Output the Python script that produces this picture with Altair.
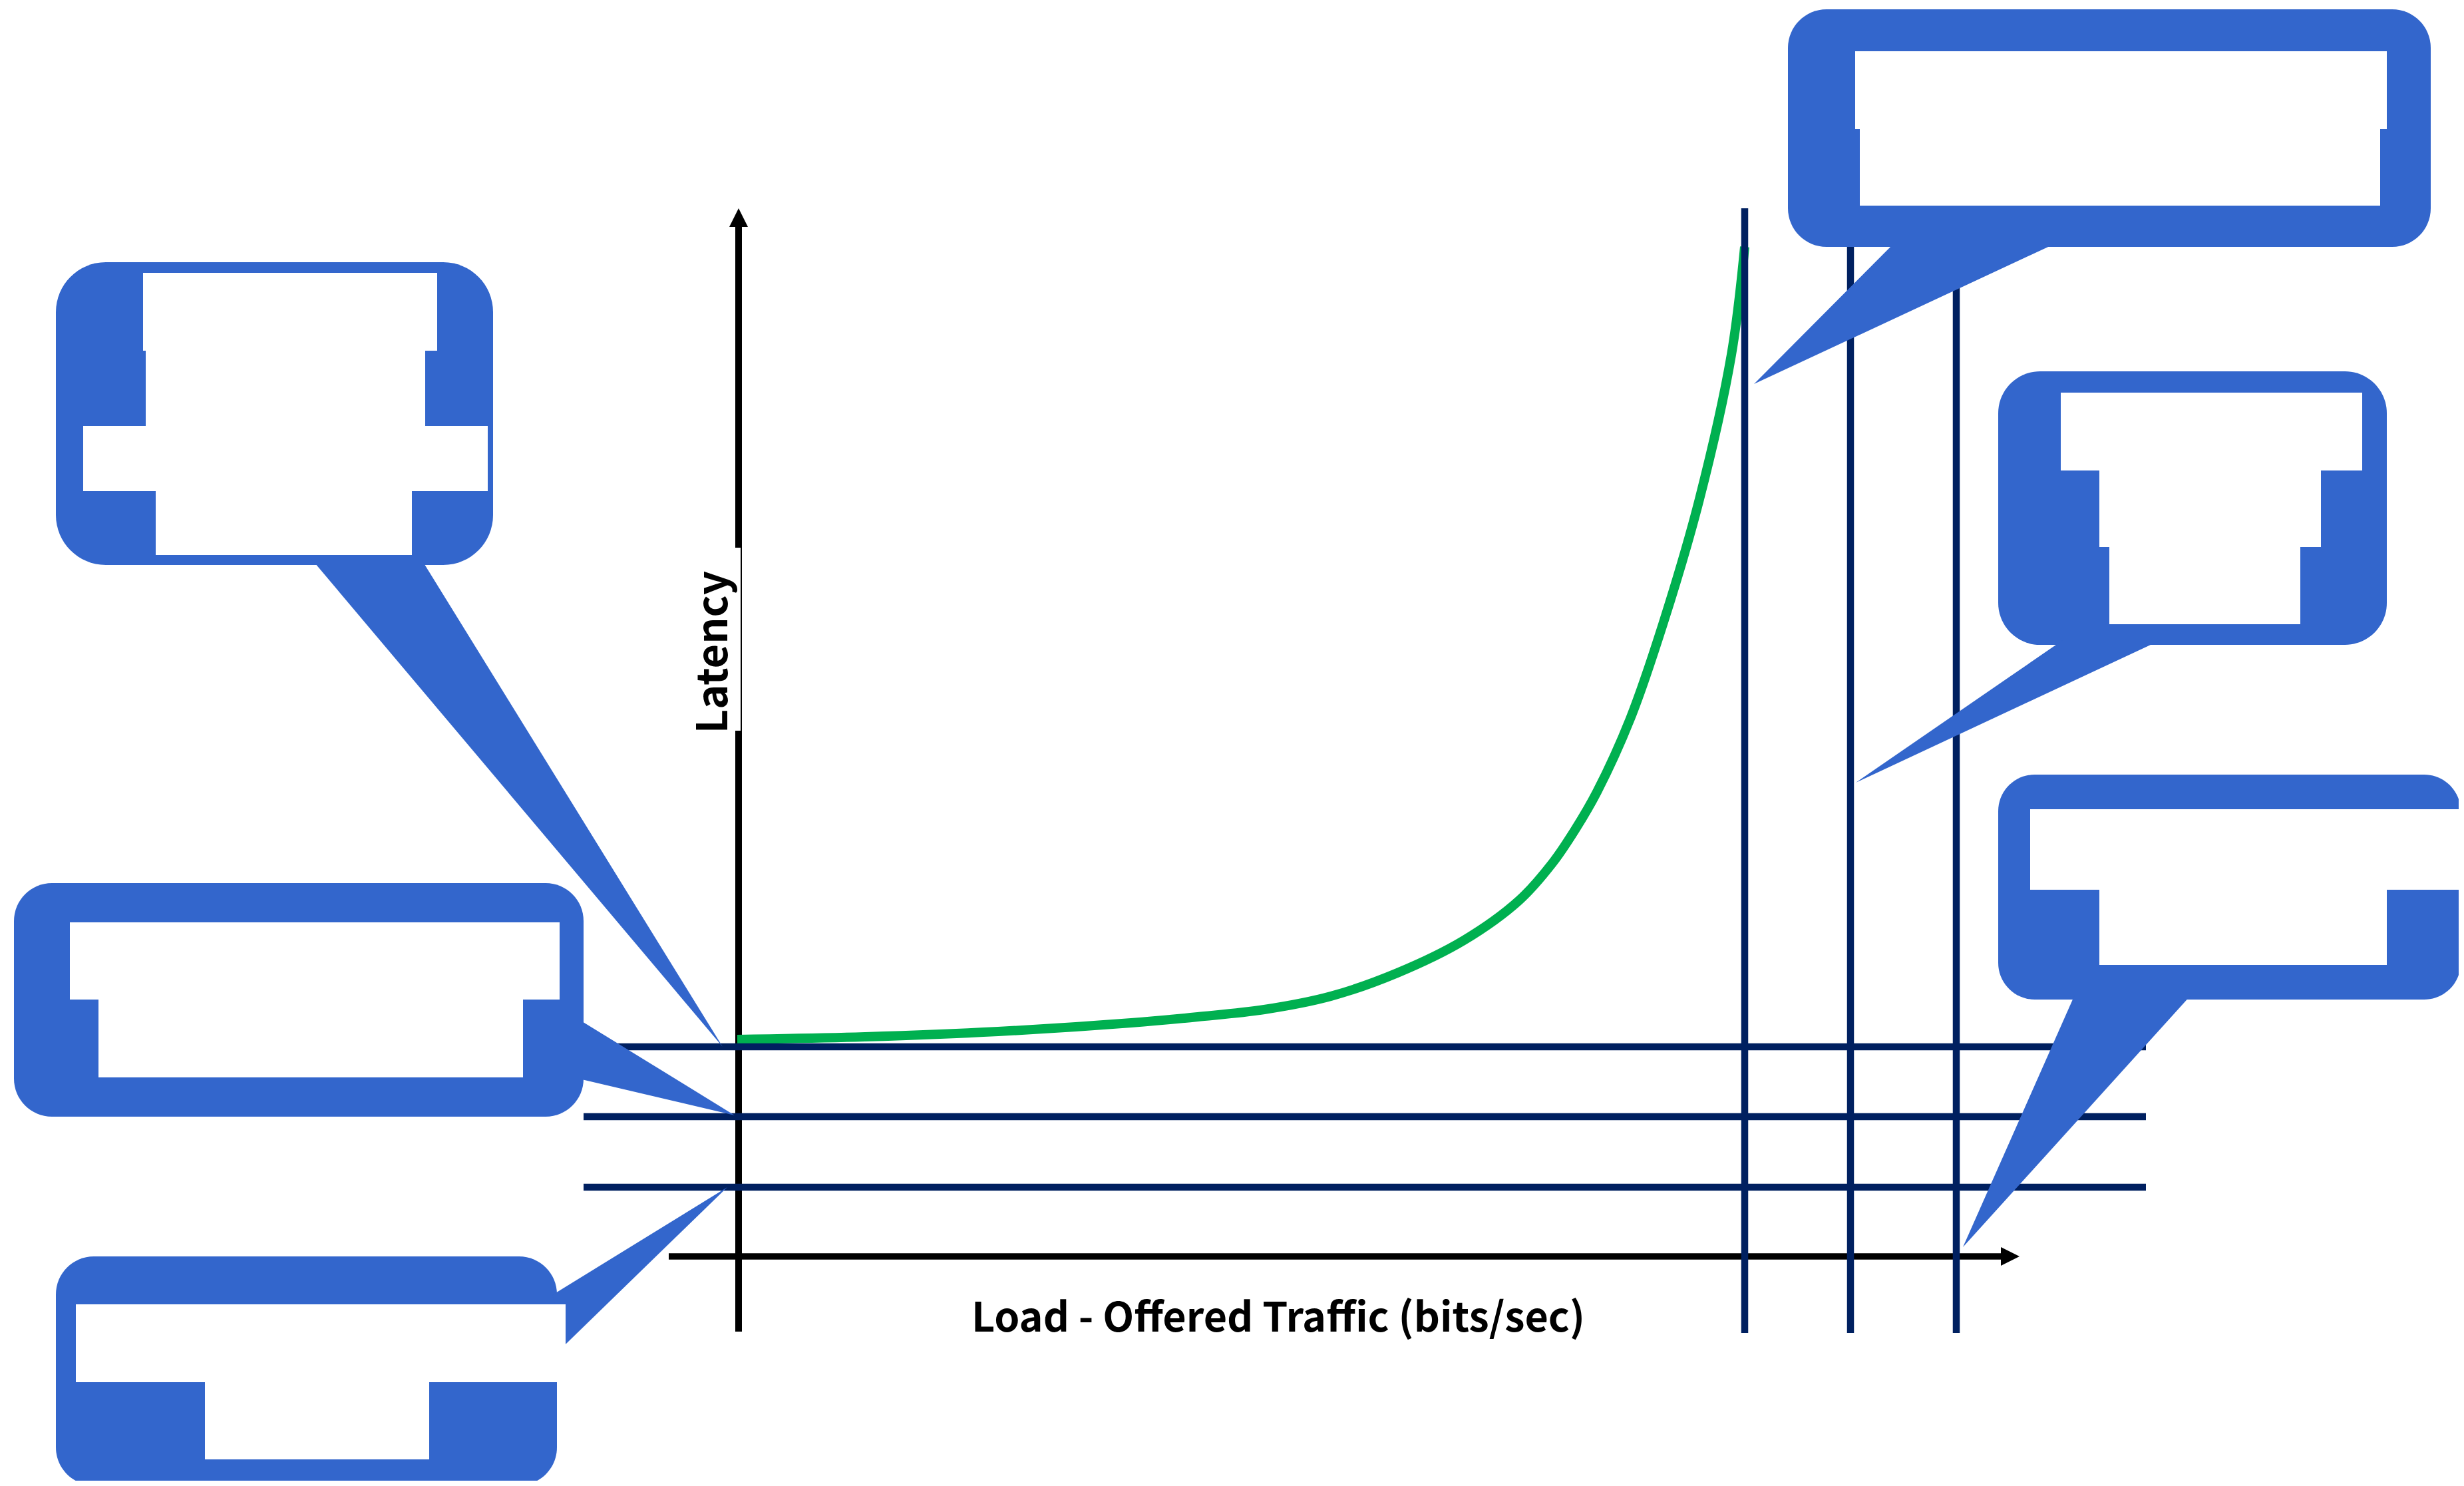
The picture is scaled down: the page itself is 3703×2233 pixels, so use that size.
import altair as alt
import pandas as pd

BLUE = "#3366CC"
NAVY = "#002060"
GREEN = "#00B050"
BLACK = "#000000"

# Latency curve (load -> latency)
CURVE_X = [1108, 1300, 1500, 1700, 1800, 1900, 2000, 2100, 2200, 2283, 2333, 2367, 2400, 2450, 2500, 2554, 2602, 2622]
CURVE_Y = [1562, 1558, 1550, 1537, 1528, 1517, 1497, 1462, 1413, 1353, 1297, 1247, 1190, 1080, 935, 750, 533, 371]

# Navy reference lines
VLINE_X = [2622, 2781, 2940]
VLINE_Y1 = [313, 371, 371]
VLINE_Y2 = [2003, 2003, 2003]
HLINE_Y = [1573, 1678, 1784]
HLINE_X1 = [877, 877, 877]
HLINE_X2 = [3225, 3225, 3225]

# Axes
YAXIS_X = [1110]
YAXIS_Y1 = [341]
YAXIS_Y2 = [2001]
XAXIS_Y = [1888]
XAXIS_X1 = [1005]
XAXIS_X2 = [3008]

# Callout bubbles
BUB_X1 = [84, 21, 84, 2687, 3003, 3003]
BUB_X2 = [741, 877, 837, 3653, 3587, 3698]
BUB_Y1 = [394, 1327, 1888, 14, 558, 1164]
BUB_Y2 = [849, 1678, 2232, 371, 969, 1502]
BUB_R = [75, 57, 57, 58, 63, 55]

# Callout pointers and axis arrowheads (polygons)
POLY_ID = [1, 1, 1, 2, 2, 2, 3, 3, 3, 4, 4, 4, 5, 5, 5, 6, 6, 6, 7, 7, 7, 8, 8, 8]
POLY_X = [468, 633, 1086, 870, 870, 1104, 830, 850, 1093, 2847, 3091, 2636,
          3100, 3247, 2789, 3118, 3293, 2950, 1110, 1124, 1096, 3035, 3007, 3007]
POLY_Y = [840, 840, 1573, 1532, 1621, 1676, 1946, 2020, 1784, 365, 365, 577,
          962, 962, 1176, 1495, 1495, 1874, 313, 341, 341, 1888, 1902, 1874]
POLY_C = [BLUE] * 18 + [BLACK] * 6

# Blanked-out callout text blocks
WB_X1 = [215, 219, 125, 234, 105, 148, 114, 308, 2788, 2795, 3097, 3155, 3170, 3051, 3155]
WB_X2 = [657, 639, 733, 619, 841, 786, 850, 645, 3587, 3577, 3550, 3488, 3457, 3703, 3587]
WB_Y1 = [410, 527, 640, 738, 1386, 1502, 1960, 2077, 77, 194, 590, 707, 822, 1216, 1337]
WB_Y2 = [527, 640, 738, 834, 1502, 1619, 2077, 2193, 194, 309, 707, 822, 938, 1337, 1450]

# Label box behind the y axis title
LBOX_X1, LBOX_X2, LBOX_Y1, LBOX_Y2 = [1099], [1113], [823], [1098]

LABELS = ["Load - Offered Traffic (bits/sec)", "Latency"]
LABEL_X = [1921, 1093]
LABEL_Y = [2001, 980]
LABEL_ANGLE = [0, 270]
LABEL_SIZE = [61, 63]

FONT = "Noto Sans CJK SC, Lato, sans-serif"

xs = alt.Scale(domain=[8, 3695], nice=False, zero=False)
ys = alt.Scale(domain=[8, 2225], nice=False, zero=False, reverse=True)


def X(f):
    return alt.X(f"{f}:Q", scale=xs, axis=None)


def Y(f):
    return alt.Y(f"{f}:Q", scale=ys, axis=None)


layers = []

# black axes
layers.append(alt.Chart(pd.DataFrame({"x": YAXIS_X, "y1": YAXIS_Y1, "y2": YAXIS_Y2}))
              .mark_rule(color=BLACK, strokeWidth=10)
              .encode(x=X("x"), y=Y("y1"), y2=alt.Y2("y2:Q")))
layers.append(alt.Chart(pd.DataFrame({"y": XAXIS_Y, "x1": XAXIS_X1, "x2": XAXIS_X2}))
              .mark_rule(color=BLACK, strokeWidth=9.5)
              .encode(y=Y("y"), x=X("x1"), x2=alt.X2("x2:Q")))
# white box behind "Latency"
layers.append(alt.Chart(pd.DataFrame({"x1": LBOX_X1, "x2": LBOX_X2, "y1": LBOX_Y1, "y2": LBOX_Y2}))
              .mark_rect(color="white")
              .encode(x=X("x1"), x2=alt.X2("x2:Q"), y=Y("y1"), y2=alt.Y2("y2:Q")))
# green latency curve
layers.append(alt.Chart(pd.DataFrame({"x": CURVE_X, "y": CURVE_Y}))
              .mark_line(color=GREEN, strokeWidth=14, interpolate="catmull-rom")
              .encode(x=X("x"), y=Y("y")))
# navy lines
layers.append(alt.Chart(pd.DataFrame({"x": VLINE_X, "y1": VLINE_Y1, "y2": VLINE_Y2}))
              .mark_rule(color=NAVY, strokeWidth=10.5)
              .encode(x=X("x"), y=Y("y1"), y2=alt.Y2("y2:Q")))
layers.append(alt.Chart(pd.DataFrame({"y": HLINE_Y, "x1": HLINE_X1, "x2": HLINE_X2}))
              .mark_rule(color=NAVY, strokeWidth=10.5)
              .encode(y=Y("y"), x=X("x1"), x2=alt.X2("x2:Q")))
# bubbles
for i in range(len(BUB_X1)):
    d = pd.DataFrame({"x1": [BUB_X1[i]], "x2": [BUB_X2[i]], "y1": [BUB_Y1[i]], "y2": [BUB_Y2[i]]})
    layers.append(alt.Chart(d).mark_rect(color=BLUE, cornerRadius=BUB_R[i])
                  .encode(x=X("x1"), x2=alt.X2("x2:Q"), y=Y("y1"), y2=alt.Y2("y2:Q")))
# pointers and arrowheads
poly = pd.DataFrame({"id": POLY_ID, "x": POLY_X, "y": POLY_Y, "c": POLY_C,
                     "i": list(range(len(POLY_X)))})
layers.append(alt.Chart(poly).mark_line(filled=True, strokeWidth=0)
              .encode(x=X("x"), y=Y("y"), detail="id:N", order="i:Q",
                      color=alt.Color("c:N", scale=None)))
# blanked text blocks
layers.append(alt.Chart(pd.DataFrame({"x1": WB_X1, "x2": WB_X2, "y1": WB_Y1, "y2": WB_Y2}))
              .mark_rect(color="white")
              .encode(x=X("x1"), x2=alt.X2("x2:Q"), y=Y("y1"), y2=alt.Y2("y2:Q")))
# labels
for i in range(len(LABELS)):
    d = pd.DataFrame({"t": [LABELS[i]], "x": [LABEL_X[i]], "y": [LABEL_Y[i]]})
    layers.append(alt.Chart(d).mark_text(font=FONT, fontWeight="bold", fontSize=LABEL_SIZE[i],
                                         align="center", baseline="alphabetic",
                                         angle=LABEL_ANGLE[i], color=BLACK)
                  .encode(x=X("x"), y=Y("y"), text="t:N"))

chart = (alt.layer(*layers)
         .properties(width=3687, height=2217, padding=0,
                     autosize=alt.AutoSizeParams(type="none"), background="white")
         .configure_view(stroke=None))

chart.save("out.html", embed_options={"renderer": "svg", "actions": False})
